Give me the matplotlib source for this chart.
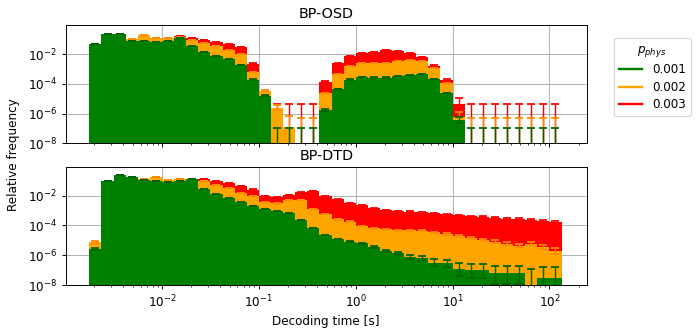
import numpy as np
import matplotlib
matplotlib.use("Agg")
import matplotlib.pyplot as plt
from matplotlib.lines import Line2D
from matplotlib.ticker import NullLocator

# decoding time bins: 8 per decade, 10^-2.75 s .. 10^2.125 s
bin_edges = np.logspace(-2.75, 2.125, 40)

p_labels = ["0.001", "0.002", "0.003"]
colors = ["green", "orange", "red"]
err_colors = ["darkgreen", "darkorange", "red"]
n_samples = [1.65e7, 3.66e6, 4.2e5]

# BP-OSD relative frequencies per bin
osd_001 = [5.0e-2, 2.45e-1, 2.24e-1, 8.3e-2, 8.3e-2, 6.5e-2, 8.3e-2, 1.2e-1, 3.8e-2, 1.5e-2,
           8.1e-3, 4.9e-3, 1.9e-3, 2.0e-4, 1.6e-5, 0, 0, 0, 0, 1.8e-6,
           4.6e-5, 2.0e-4, 2.95e-4, 2.7e-4, 2.7e-4, 3.3e-4, 4.3e-4, 4.5e-4, 2.2e-4, 2.5e-5,
           3.7e-7, 0, 0, 0, 0, 0, 0, 0, 0]
osd_002 = [5.0e-2, 2.45e-1, 2.24e-1, 1.12e-1, 1.9e-1, 1.26e-1, 1.2e-1, 1.48e-1, 9.3e-2, 5.5e-2,
           3.6e-2, 1.95e-2, 1.05e-2, 6.8e-4, 3.5e-5, 2.5e-6, 1.26e-7, 0, 0, 2.3e-5,
           4.7e-4, 1.74e-3, 2.75e-3, 2.45e-3, 2.75e-3, 3.5e-3, 4.2e-3, 3.4e-3, 1.15e-3, 1.1e-4,
           5.9e-7, 0, 0, 0, 0, 0, 0, 0, 0]
osd_003 = [5.0e-2, 2.45e-1, 2.24e-1, 1.1e-1, 1.85e-1, 1.22e-1, 1.32e-1, 1.62e-1, 1.32e-1, 9.8e-2,
           6.8e-2, 4.7e-2, 2.95e-2, 2.35e-3, 2.5e-5, 0, 0, 0, 0, 1.45e-4,
           2.45e-3, 8.1e-3, 1.29e-2, 1.35e-2, 2.04e-2, 1.58e-2, 1.23e-2, 6.6e-3, 1.74e-3, 1.78e-4,
           4.5e-6, 0, 0, 0, 0, 0, 0, 0, 0]

# BP-DTD relative frequencies per bin
dtd_001 = [2.6e-6, 9.1e-2, 2.3e-1, 1.9e-1, 1.12e-1, 9.1e-2, 7.8e-2, 1.02e-1, 1.32e-1, 2.8e-2,
           1.29e-2, 7.4e-3, 4.0e-3, 2.04e-3, 1.26e-3, 9.3e-4, 7.2e-4, 2.3e-4, 6.5e-5, 2.3e-5,
           1.23e-5, 8.1e-6, 6.3e-6, 3.4e-6, 1.9e-6, 1.35e-6, 7.9e-7, 6.8e-7, 3.2e-7, 2.9e-7,
           1.2e-7, 1.0e-7, 1.0e-7, 6.2e-8, 6.2e-8, 6.2e-8, 0, 2.8e-8, 2.8e-8]
dtd_002 = [7.4e-6, 9.1e-2, 2.3e-1, 1.9e-1, 1.38e-1, 1.78e-1, 1.12e-1, 1.26e-1, 1.32e-1, 1.02e-1,
           5.2e-2, 3.5e-2, 1.45e-2, 9.5e-3, 3.5e-3, 3.0e-3, 5.1e-3, 5.1e-3, 1.26e-3, 5.6e-4,
           2.6e-4, 1.78e-4, 9.1e-5, 6.5e-5, 5.5e-5, 4.9e-5, 4.9e-5, 4.4e-5, 3.5e-5, 2.7e-5,
           2.0e-5, 1.5e-5, 1.1e-5, 8.1e-6, 5.8e-6, 4.4e-6, 5.8e-6, 3.7e-6, 2.0e-6]
dtd_003 = [2.4e-6, 9.1e-2, 2.3e-1, 1.9e-1, 1.35e-1, 1.75e-1, 1.1e-1, 1.24e-1, 1.3e-1, 1.26e-1,
           9.1e-2, 6.8e-2, 4.7e-2, 2.6e-2, 9.5e-3, 8.5e-3, 1.1e-2, 1.66e-2, 2.2e-2, 9.5e-3,
           5.6e-3, 3.4e-3, 2.35e-3, 1.41e-3, 1.1e-3, 9.3e-4, 8.5e-4, 7.6e-4, 6.5e-4, 5.6e-4,
           5.0e-4, 4.3e-4, 3.9e-4, 3.3e-4, 2.8e-4, 2.7e-4, 2.3e-4, 2.0e-4, 1.78e-4]

panels = [
    ("BP-OSD", [osd_001, osd_002, osd_003], 0.95),
    ("BP-DTD", [dtd_001, dtd_002, dtd_003], 0.81),
]


def poisson_errors(freq, n):
    # approximate 68% Poisson interval on the counts (Gehrels)
    k = np.asarray(freq) * n
    upper = k + 1 + np.sqrt(k + 0.75)
    safe_k = np.where(k > 0, k, 1.0)
    base = 1 - 1 / (9 * safe_k) - 1 / (3 * np.sqrt(safe_k))
    lower = np.where(k > 0, k * np.clip(base, 0, None) ** 3, 0.0)
    return np.vstack([(k - lower) / n, (upper - k) / n])


dpi = 86
fig = plt.figure(figsize=(697 / dpi, 329 / dpi), dpi=dpi)
ax_top = fig.add_axes([0.0943, 0.5644, 0.7475, 0.3596])
ax_bot = fig.add_axes([0.0943, 0.1337, 0.7475, 0.3578], sharex=ax_top)

left = bin_edges[:-1]
widths = np.diff(bin_edges)
centers = np.sqrt(bin_edges[:-1] * bin_edges[1:])

for ax, (title, series, ytop) in zip([ax_top, ax_bot], panels):
    ax.set_xscale("log")
    ax.set_yscale("log")

    # draw the largest rate first so smaller ones sit in front
    for j in [2, 1, 0]:
        z = 1 + (2 - j) * 0.2
        ax.bar(left, series[j], width=widths, align="edge",
               color=colors[j], linewidth=0, zorder=z)
        err = poisson_errors(series[j], n_samples[j])
        _, caps, _ = ax.errorbar(centers, series[j], yerr=err, fmt="none",
                                 ecolor=err_colors[j], elinewidth=1.2,
                                 capsize=3.3, capthick=1.5, zorder=z + 0.1)
        for cap in caps:
            cap.set_color("k")

    ax.set_ylim(1e-8, ytop)
    ax.set_yticks([1e-8, 1e-6, 1e-4, 1e-2])
    ax.yaxis.set_minor_locator(NullLocator())
    ax.set_axisbelow(True)
    ax.grid(True, which="major", color="#b0b0b0", linewidth=0.8)
    ax.set_title(title, fontsize=12)
    ax.tick_params(labelsize=10)

ax_top.set_xlim(10 ** -2.994, 10 ** 2.385)
plt.setp(ax_top.get_xticklabels(), visible=False)
ax_bot.set_xlabel("Decoding time [s]", fontsize=10)

fig.text(0.019, 0.53, "Relative frequency", rotation=90,
         ha="center", va="center", fontsize=10)

handles = [Line2D([0], [0], color=c, linewidth=2) for c in colors]
fig.legend(handles, p_labels, title="$p_{phys}$", loc="upper left",
           bbox_to_anchor=(0.872, 0.903), fontsize=10, title_fontsize=10,
           labelspacing=0.38)

fig.savefig("out.png", dpi=dpi)
